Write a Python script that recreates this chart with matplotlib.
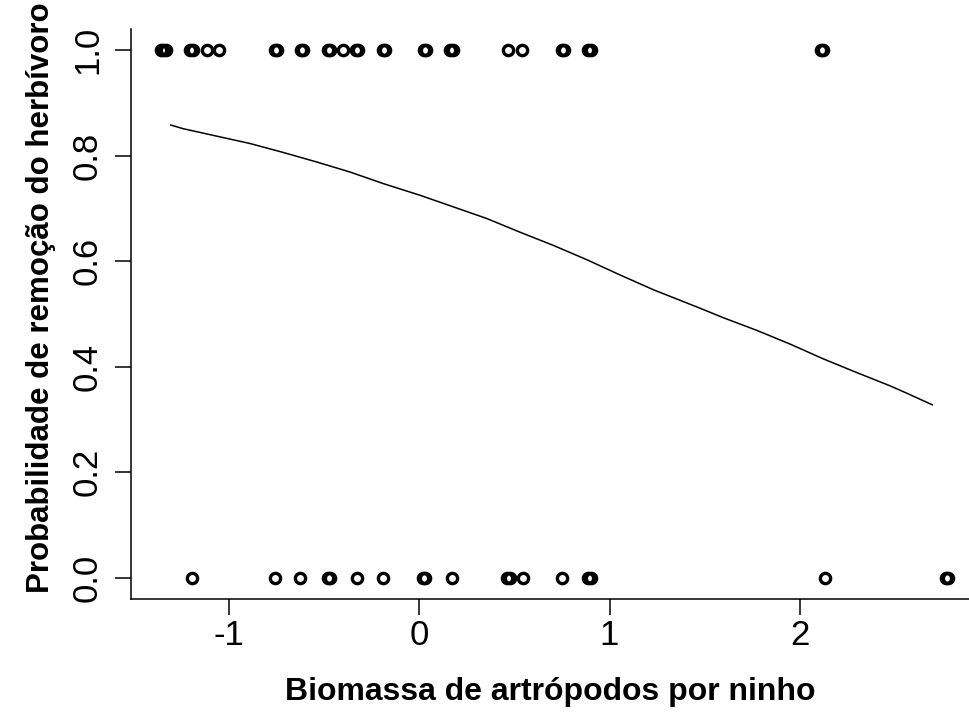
import numpy as np
import matplotlib
matplotlib.use('Agg')
import matplotlib.pyplot as plt

plt.rcParams['font.family'] = ['Liberation Sans', 'DejaVu Sans']
plt.rcParams['axes.unicode_minus'] = False

# observed nests: biomass (x) and removal outcome (0/1)
x_removed = [-1.355, -1.342, -1.330, -1.200, -1.186, -1.115, -1.050,
             -0.757, -0.745, -0.621, -0.608, -0.478, -0.465, -0.397,
             -0.331, -0.321, -0.190, -0.178, 0.025, 0.038, 0.165, 0.178,
             0.465, 0.540, 0.748, 0.761, 0.888, 0.901, 2.108, 2.121]
x_kept = [-1.193, -0.756, -0.625, -0.478, -0.465, -0.327, -0.187,
          0.020, 0.033, 0.175, 0.462, 0.475, 0.548, 0.749, 0.888, 0.901,
          2.131, 2.765, 2.778]

# fitted curve
curve_x = [-1.303, -1.237, -1.062, -0.887, -0.712, -0.537, -0.362, -0.187,
           0.005, 0.180, 0.355, 0.530, 0.705, 0.880, 1.055, 1.230, 1.475,
           1.597, 1.773, 1.948, 2.122, 2.298, 2.472, 2.560, 2.694]
curve_y = [0.858, 0.851, 0.837, 0.823, 0.806, 0.788, 0.769, 0.747,
           0.725, 0.703, 0.681, 0.655, 0.630, 0.603, 0.574, 0.546, 0.511,
           0.493, 0.469, 0.443, 0.415, 0.389, 0.364, 0.350, 0.328]

fig = plt.figure(figsize=(9.69, 7.22), dpi=100)
ax = fig.add_axes([131/969, 123/722, 838/969, 570/722])

ax.plot(x_removed, np.ones(len(x_removed)), 'o', mfc='none', mec='black', ms=7.4, mew=2.4)
ax.plot(x_kept, np.zeros(len(x_kept)), 'o', mfc='none', mec='black', ms=7.4, mew=2.4)
ax.plot(curve_x, curve_y, c='black', lw=1.1)

ax.set_xlim(-1.512, 2.887)
ax.set_ylim(-0.04, 1.04)
ax.set_xticks([-1, 0, 1, 2])
ax.set_yticks([0.0, 0.2, 0.4, 0.6, 0.8, 1.0])
ax.set_yticklabels(['0.0', '0.2', '0.4', '0.6', '0.8', '1.0'], rotation=90, va='center')
ax.tick_params(axis='both', length=11.5, width=1.1, labelsize=25, direction='out')
ax.tick_params(axis='x', pad=3)
ax.tick_params(axis='y', pad=8)
for s in ['top', 'right']:
    ax.spines[s].set_visible(False)
for s in ['left', 'bottom']:
    ax.spines[s].set_linewidth(1.1)

ax.set_xlabel('Biomassa de artrópodos por ninho', fontsize=23, fontweight='bold', labelpad=18)
ax.set_ylabel('Probabilidade de remoção do herbívoro', fontsize=22.5, fontweight='bold')
ax.yaxis.set_label_coords(-0.089, 0.528)

fig.savefig('out.png', dpi=100)
